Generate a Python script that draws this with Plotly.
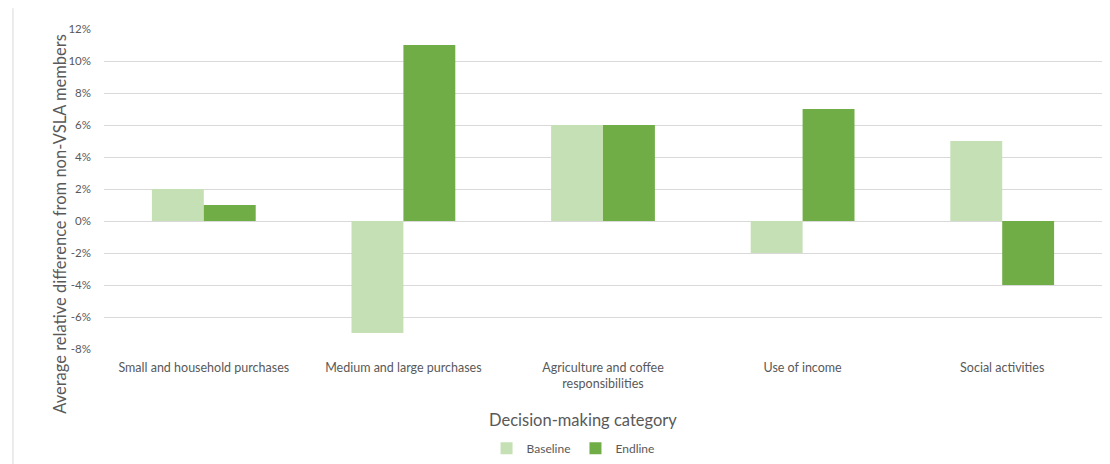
import plotly.graph_objects as go

categories = ["Small and household purchases", "Medium and large purchases",
              "Agriculture and coffee<br>responsibilities", "Use of income", "Social activities"]
baseline = [0.02, -0.07, 0.06, -0.02, 0.05]
endline = [0.01, 0.11, 0.06, 0.07, -0.04]
tick_vals = [-0.08, -0.06, -0.04, -0.02, 0, 0.02, 0.04, 0.06, 0.08, 0.10, 0.12]
tick_text = ["-8%", "-6%", "-4%", "-2%", "0%", "2%", "4%", "6%", "8%", "10%", "12%"]

FONT = "Lato"
TXT = "#595959"

fig = go.Figure()
fig.add_trace(go.Bar(name="Baseline", x=categories, y=baseline, marker_color="#C5E0B4",
                     marker_line_width=0))
fig.add_trace(go.Bar(name="Endline", x=categories, y=endline, marker_color="#70AD47",
                     marker_line_width=0))

fig.update_layout(
    width=1110, height=464,
    margin=dict(l=104, r=8, t=29, b=115, autoexpand=False),
    barmode="group", bargap=0.48, bargroupgap=0,
    plot_bgcolor="white", paper_bgcolor="white",
    font=dict(family=FONT, color=TXT, size=11),
    legend=dict(orientation="h", x=0.47, xanchor="center", y=-0.31, yanchor="middle",
                font=dict(size=12, color=TXT), itemwidth=30, traceorder="normal"),
    xaxis=dict(tickfont=dict(size=12.5, color=TXT), showline=False, ticks="", automargin=False,
               ticklabelstandoff=9),
    yaxis=dict(range=[-0.08, 0.12], tickvals=tick_vals, ticktext=tick_text,
               tickfont=dict(size=11.5, color=TXT), automargin=False,
               showgrid=True, gridcolor="#D9D9D9", gridwidth=1,
               zeroline=True, zerolinecolor="#D9D9D9", zerolinewidth=1, ticklabelstandoff=12),
    annotations=[
        dict(text="Decision-making category", xref="paper", yref="paper", x=0.48, y=-0.222,
             xanchor="center", yanchor="middle", showarrow=False, font=dict(size=16.5, color=TXT)),
        dict(text="Average relative difference from non-VSLA members", xref="paper", yref="paper",
             x=-0.0435, y=0.39, xanchor="center", yanchor="middle", textangle=-90, showarrow=False,
             font=dict(size=16.5, color=TXT)),
    ],
    shapes=[dict(type="line", xref="paper", yref="paper", x0=-0.0912, x1=-0.0912,
                 y0=1.065, y1=-0.36, line=dict(color="#D9D9D9", width=1))],
)

fig.write_html("out.html")
